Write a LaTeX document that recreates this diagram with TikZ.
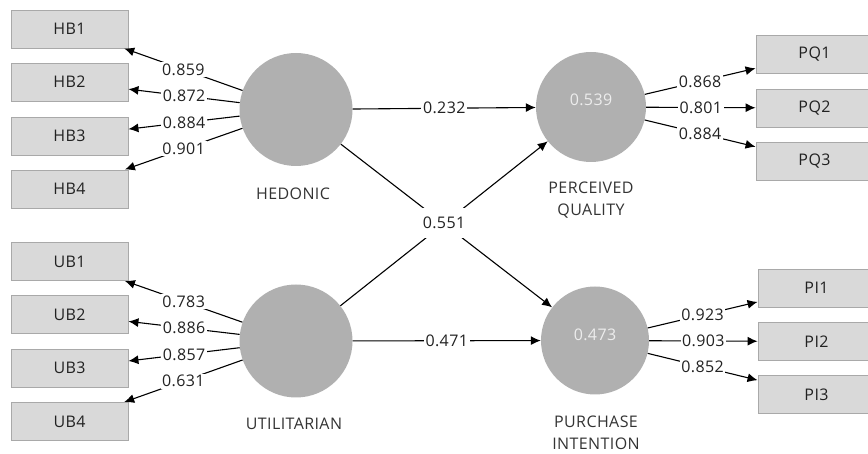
\documentclass[tikz,border=0pt]{standalone}
\usepackage{fontspec}
\setmainfont[LetterSpace=2.5]{Open Sans}
\usetikzlibrary{arrows.meta}
\definecolor{latent}{HTML}{B0B0B0}
\definecolor{boxfill}{HTML}{D9D9D9}
\definecolor{boxline}{HTML}{A9A9A9}
\definecolor{ink}{HTML}{222222}
\definecolor{captionink}{HTML}{333333}
\begin{document}
\begin{tikzpicture}[x=1pt,y=-1pt,
  indicator/.style={draw=boxline, fill=boxfill, line width=0.9pt,
    minimum width=117pt, minimum height=38pt, inner sep=0pt,
    font=\fontsize{16}{18}\selectfont, text=ink},
  construct/.style={circle, fill=latent, minimum size=#1, inner sep=0pt},
  cname/.style={font=\fontsize{16}{22}\selectfont, text=captionink, align=center},
  rsq/.style={text=white!93!black, font=\fontsize{16}{18}\selectfont},
  link/.style={draw=black, line width=1.1pt, -{Latex[length=10pt,width=9pt]}},
  coef/.style={fill=white, inner sep=1.6pt, font=\fontsize{16}{18}\selectfont, text=ink},
]
\useasboundingbox (0,0) rectangle (868,454);
\clip (0,0) rectangle (868,454);

% indicators of the exogenous constructs
\node[indicator] (HB1) at (69.5,29)  {HB1};
\node[indicator] (HB2) at (69.5,82)  {HB2};
\node[indicator] (HB3) at (69.5,136) {HB3};
\node[indicator] (HB4) at (69.5,189) {HB4};
\node[indicator] (UB1) at (69.5,261.5) {UB1};
\node[indicator] (UB2) at (69.5,314.5) {UB2};
\node[indicator] (UB3) at (69.5,368)   {UB3};
\node[indicator] (UB4) at (69.5,421.5) {UB4};

% indicators of the endogenous constructs
\node[indicator] (PQ1) at (814.5,54.5) {PQ1};
\node[indicator] (PQ2) at (814.5,108)  {PQ2};
\node[indicator] (PQ3) at (814.5,161)  {PQ3};
\node[indicator] (PI1) at (816.5,288)   {PI1};
\node[indicator] (PI2) at (816.5,341.5) {PI2};
\node[indicator] (PI3) at (816.5,394.5) {PI3};

% latent constructs
\node[construct=113pt] (HED) at (296,109.5) {};
\node[construct=113pt] (UT)  at (296,341)   {};
\node[construct=110pt] (PQ)  at (591,107)   {};
\node[construct=108pt] (PI)  at (595,340.5) {};

\node[rsq] (PQr) at (591,100) {0.539};
\node[rsq] (PIr) at (595,335) {0.473};

\node[cname] (HEDn) at (293,194) {HEDONIC};
\node[cname] (UTn)  at (294,424) {UTILITARIAN};
\node[cname] (PQn)  at (591,200) {PERCEIVED\\QUALITY};
\node[cname] (PIn)  at (596,432.5) {PURCHASE\\INTENTION};

% outer loadings
\draw[link] (HED) -- node[coef] {0.859} (HB1);
\draw[link] (HED) -- node[coef] {0.872} (HB2);
\draw[link] (HED) -- node[coef] {0.884} (HB3);
\draw[link] (HED) -- node[coef] {0.901} (HB4);
\draw[link] (UT) -- node[coef] {0.783} (UB1);
\draw[link] (UT) -- node[coef] {0.886} (UB2);
\draw[link] (UT) -- node[coef] {0.857} (UB3);
\draw[link] (UT) -- node[coef] {0.631} (UB4);
\draw[link] (PQ) -- node[coef] {0.868} (PQ1);
\draw[link] (PQ) -- node[coef] {0.801} (PQ2);
\draw[link] (PQ) -- node[coef] {0.884} (PQ3);
\draw[link] (PI) -- node[coef] {0.923} (PI1);
\draw[link] (PI) -- node[coef] {0.903} (PI2);
\draw[link] (PI) -- node[coef] {0.852} (PI3);

% structural paths
\draw[link] (HED) -- node[coef] {0.232} (PQ);
\draw[link] (UT) -- node[coef] {0.471} (PI);
\draw[link] (HED) -- (PI);
\draw[link] (UT) -- (PQ);
\node[coef, minimum width=44pt, minimum height=30pt] (cross) at (444,223) {0.551};
\end{tikzpicture}
\end{document}
